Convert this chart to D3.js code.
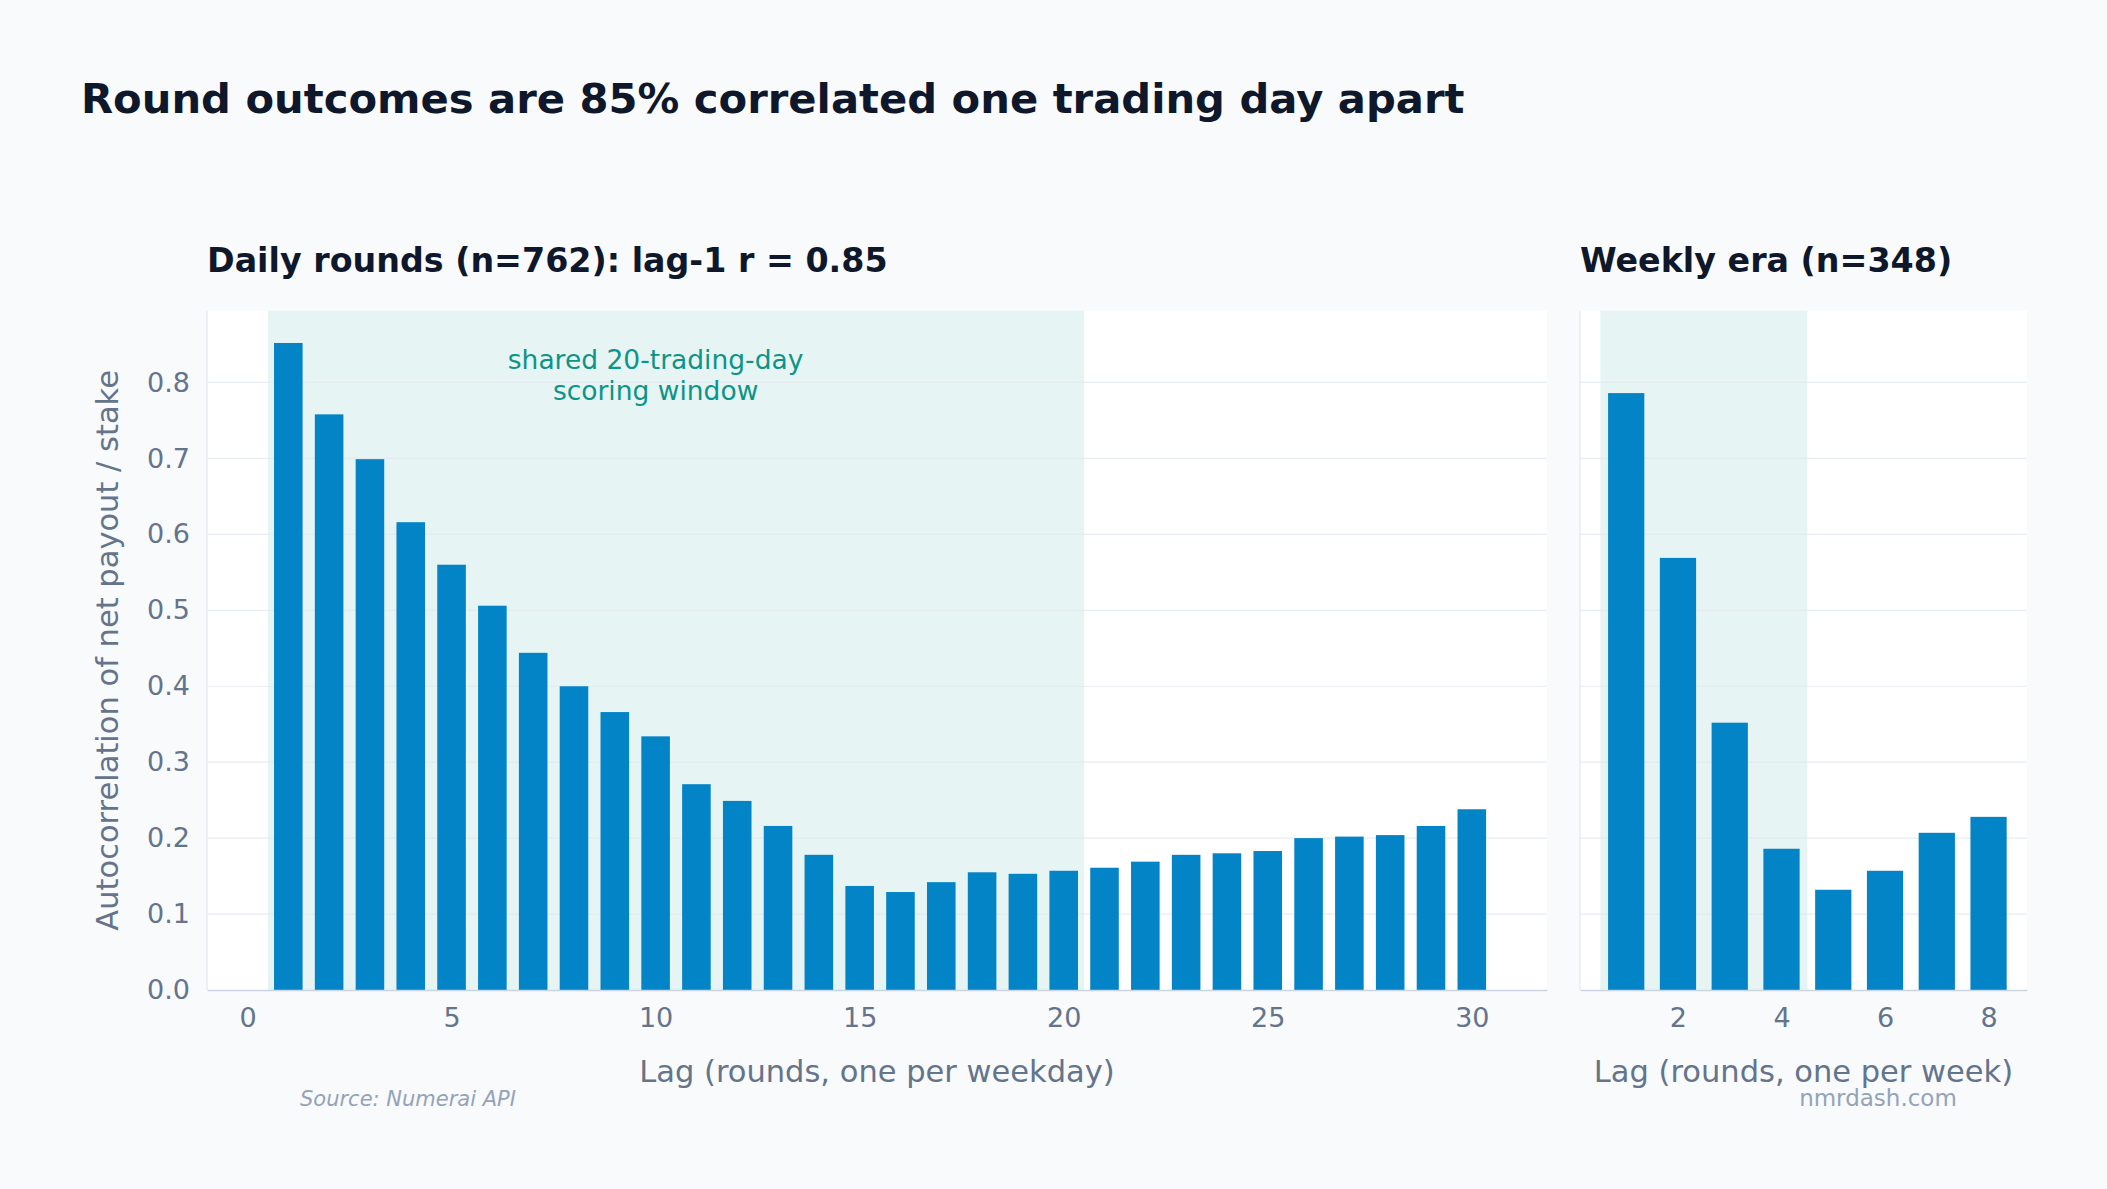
<!DOCTYPE html>
<html>
<head>
<meta charset="utf-8">
<script src="https://cdn.jsdelivr.net/npm/d3@7"></script>
<style>
  html, body { margin: 0; padding: 0; background: #f8fafc; }
  svg { display: block; font-family: "DejaVu Sans", sans-serif; }
</style>
</head>
<body>
<svg id="chart" width="2107" height="1189"></svg>
<script>
// ---------- data ----------
const titleText = "Round outcomes are 85% correlated one trading day apart";
const dailyTitle = "Daily rounds (n=762): lag-1 r = 0.85";
const weeklyTitle = "Weekly era (n=348)";
const dailyXLabel = "Lag (rounds, one per weekday)";
const weeklyXLabel = "Lag (rounds, one per week)";
const yLabel = "Autocorrelation of net payout / stake";
const sourceText = "Source: Numerai API";
const brandText = "nmrdash.com";
const windowNote = ["shared 20-trading-day", "scoring window"];

const dailyLags = [1,2,3,4,5,6,7,8,9,10,11,12,13,14,15,16,17,18,19,20,21,22,23,24,25,26,27,28,29,30];
const dailyValues = [0.852,0.758,0.699,0.616,0.560,0.506,0.444,0.400,0.366,0.334,
                     0.271,0.249,0.216,0.178,0.137,0.129,0.142,0.155,0.153,0.157,
                     0.161,0.169,0.178,0.180,0.183,0.200,0.202,0.204,0.216,0.238];
const weeklyLags = [1,2,3,4,5,6,7,8];
const weeklyValues = [0.786,0.569,0.352,0.186,0.132,0.157,0.207,0.228];

const yTicks = [0,0.1,0.2,0.3,0.4,0.5,0.6,0.7,0.8];
const dailyXTicks = [0,5,10,15,20,25,30];
const weeklyXTicks = [2,4,6,8];
const dailyWindow = [0.5, 20.5];
const weeklyWindow = [0.5, 4.5];
const dailyXDomain = [-0.9925, 31.8425];
const weeklyXDomain = [0.1075, 8.7425];
const yDomain = [0, 0.8945];

// ---------- style ----------
const C = {
  bg: "#f8fafc", panel: "#ffffff", bar: "#0284c7", shade: "#0d9488",
  title: "#0f172a", tick: "#64748b", grid: "#e2e8f0", spine: "#cbd5e1",
  note: "#0d9488", source: "#94a3b8"
};
const barWidth = 0.7;

const svg = d3.select("#chart");
svg.append("rect").attr("width", 2107).attr("height", 1189).attr("fill", C.bg);

const plotTop = 310.7, plotBottom = 990;
const y = d3.scaleLinear().domain(yDomain).range([plotBottom, plotTop]);

svg.append("text").attr("x", 81).attr("y", 112.5)
  .attr("font-size", 41.7).attr("font-weight", "bold").attr("fill", C.title)
  .text(titleText);

function panel(opts) {
  const x = d3.scaleLinear().domain(opts.domain).range([opts.left, opts.right]);
  const g = svg.append("g");
  g.append("rect").attr("x", opts.left).attr("y", plotTop)
    .attr("width", opts.right - opts.left).attr("height", plotBottom - plotTop).attr("fill", C.panel);
  g.append("rect").attr("x", x(opts.window[0])).attr("y", plotTop)
    .attr("width", x(opts.window[1]) - x(opts.window[0])).attr("height", plotBottom - plotTop)
    .attr("fill", C.shade).attr("fill-opacity", 0.1);
  g.append("g").selectAll("line").data(yTicks.filter(d => d > 0)).join("line")
    .attr("x1", opts.left).attr("x2", opts.right)
    .attr("y1", d => y(d)).attr("y2", d => y(d))
    .attr("stroke", C.grid).attr("stroke-opacity", 0.8).attr("stroke-width", 1.2);
  g.append("g").selectAll("rect").data(opts.lags).join("rect")
    .attr("x", d => x(d - barWidth / 2))
    .attr("width", d => x(d + barWidth / 2) - x(d - barWidth / 2))
    .attr("y", (d, i) => y(opts.values[i]))
    .attr("height", (d, i) => y(0) - y(opts.values[i]))
    .attr("fill", C.bar);
  g.append("line").attr("x1", opts.left).attr("x2", opts.left).attr("y1", plotTop).attr("y2", plotBottom)
    .attr("stroke", C.grid).attr("stroke-width", 1.2);
  const xa = g.append("g").attr("transform", `translate(0,${plotBottom})`)
    .call(d3.axisBottom(x).tickValues(opts.xTicks).tickSize(0).tickPadding(18).tickFormat(d3.format("d")));
  xa.select(".domain").attr("stroke", C.spine).attr("stroke-width", 1.5);
  xa.selectAll("text").attr("font-size", 27).attr("fill", C.tick).attr("font-family", "DejaVu Sans");
  if (opts.yAxis) {
    const ya = g.append("g").attr("transform", `translate(${opts.left},0)`)
      .call(d3.axisLeft(y).tickValues(yTicks).tickSize(0).tickPadding(17).tickFormat(d3.format(".1f")));
    ya.select(".domain").remove();
    ya.selectAll("text").attr("font-size", 27).attr("fill", C.tick).attr("font-family", "DejaVu Sans");
  }
  svg.append("text").attr("x", opts.left).attr("y", 272)
    .attr("font-size", 33.3).attr("font-weight", "bold").attr("fill", C.title)
    .text(opts.title);
  svg.append("text").attr("x", (opts.left + opts.right) / 2).attr("y", 1081.5)
    .attr("text-anchor", "middle").attr("font-size", 30.5).attr("fill", C.tick)
    .text(opts.xLabel);
  return x;
}

const xd = panel({left: 207, right: 1547, domain: dailyXDomain, window: dailyWindow,
  lags: dailyLags, values: dailyValues, xTicks: dailyXTicks, yAxis: true,
  title: dailyTitle, xLabel: dailyXLabel});
panel({left: 1580, right: 2027, domain: weeklyXDomain, window: weeklyWindow,
  lags: weeklyLags, values: weeklyValues, xTicks: weeklyXTicks, yAxis: false,
  title: weeklyTitle, xLabel: weeklyXLabel});

const note = svg.append("text").attr("text-anchor", "middle")
  .attr("font-size", 26.5).attr("fill", C.note);
windowNote.forEach((t, i) => {
  note.append("tspan").attr("x", xd(10)).attr("y", y(0.818) + i * 31).text(t);
});

svg.append("text")
  .attr("transform", `translate(118,${(plotTop + plotBottom) / 2}) rotate(-90)`)
  .attr("text-anchor", "middle").attr("font-size", 30.5).attr("fill", C.tick)
  .text(yLabel);

svg.append("text").attr("x", 300).attr("y", 1106).attr("font-size", 21)
  .attr("font-style", "italic").attr("fill", C.source).text(sourceText);
svg.append("text").attr("x", 1878).attr("y", 1106).attr("font-size", 23)
  .attr("text-anchor", "middle").attr("fill", C.source).text(brandText);
</script>
</body>
</html>
